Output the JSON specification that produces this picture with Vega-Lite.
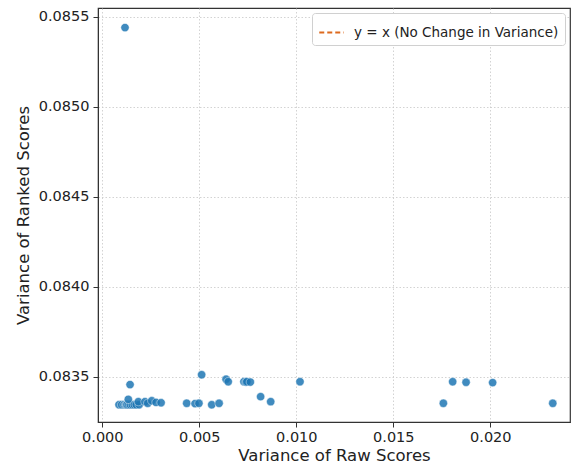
{
  "$schema": "https://vega.github.io/schema/vega-lite/v6.json",
  "width": 472,
  "height": 414,
  "autosize": {"type": "none"},
  "padding": {"left": 98, "top": 8, "right": 1, "bottom": 53},
  "config": {
    "font": "DejaVu Sans",
    "view": {"stroke": "#333333", "strokeWidth": 1.2},
    "axis": {
      "labelFont": "DejaVu Sans",
      "titleFont": "DejaVu Sans",
      "labelFontSize": 14.5,
      "titleFontSize": 16.5,
      "titleFontWeight": "normal",
      "labelColor": "#222222",
      "titleColor": "#222222",
      "domainColor": "#333333",
      "tickColor": "#333333",
      "tickSize": 5,
      "gridColor": "#c8c8c8",
      "gridDash": [1.5, 2],
      "gridWidth": 0.8
    }
  },
  "layer": [
    {
      "data": {
        "values": [
          {"raw": 0.00117, "ranked": 0.085441},
          {"raw": 0.00143, "ranked": 0.083456},
          {"raw": 0.00512, "ranked": 0.083511},
          {"raw": 0.00638, "ranked": 0.083486},
          {"raw": 0.00649, "ranked": 0.083472},
          {"raw": 0.0073, "ranked": 0.083472},
          {"raw": 0.00741, "ranked": 0.083470},
          {"raw": 0.00745, "ranked": 0.083472},
          {"raw": 0.00763, "ranked": 0.083470},
          {"raw": 0.00816, "ranked": 0.083389},
          {"raw": 0.00868, "ranked": 0.083361},
          {"raw": 0.01019, "ranked": 0.083472},
          {"raw": 0.01758, "ranked": 0.083352},
          {"raw": 0.01806, "ranked": 0.083472},
          {"raw": 0.01875, "ranked": 0.083469},
          {"raw": 0.02012, "ranked": 0.083467},
          {"raw": 0.02322, "ranked": 0.083352},
          {"raw": 0.00086, "ranked": 0.083344},
          {"raw": 0.00100, "ranked": 0.083344},
          {"raw": 0.00112, "ranked": 0.083344},
          {"raw": 0.00120, "ranked": 0.083344},
          {"raw": 0.00125, "ranked": 0.083344},
          {"raw": 0.00128, "ranked": 0.083344},
          {"raw": 0.00137, "ranked": 0.083344},
          {"raw": 0.00145, "ranked": 0.083344},
          {"raw": 0.00155, "ranked": 0.083344},
          {"raw": 0.00165, "ranked": 0.083344},
          {"raw": 0.00175, "ranked": 0.083344},
          {"raw": 0.00190, "ranked": 0.083344},
          {"raw": 0.00134, "ranked": 0.083374},
          {"raw": 0.00186, "ranked": 0.083361},
          {"raw": 0.00220, "ranked": 0.083361},
          {"raw": 0.00234, "ranked": 0.083352},
          {"raw": 0.00255, "ranked": 0.083366},
          {"raw": 0.00277, "ranked": 0.083357},
          {"raw": 0.00303, "ranked": 0.083355},
          {"raw": 0.00435, "ranked": 0.083352},
          {"raw": 0.00478, "ranked": 0.083350},
          {"raw": 0.00498, "ranked": 0.083352},
          {"raw": 0.00564, "ranked": 0.083344},
          {"raw": 0.00602, "ranked": 0.083352}
        ]
      },
      "mark": {"type": "point", "filled": true, "size": 70, "color": "#1f77b4", "opacity": 0.85, "stroke": "white", "strokeWidth": 0.5, "strokeOpacity": 1},
      "encoding": {
        "x": {
          "field": "raw", "type": "quantitative",
          "scale": {"domain": [-0.000222, 0.024108], "nice": false, "zero": false},
          "axis": {"title": "Variance of Raw Scores", "format": ".3f", "values": [0, 0.005, 0.01, 0.015, 0.02], "titlePadding": 4, "labelPadding": 3}
        },
        "y": {
          "field": "ranked", "type": "quantitative",
          "scale": {"domain": [0.083248, 0.08555], "nice": false, "zero": false},
          "axis": {"title": "Variance of Ranked Scores", "format": ".4f", "values": [0.0835, 0.084, 0.0845, 0.085, 0.0855], "titlePadding": 7, "labelPadding": 4}
        }
      }
    },
    {
      "data": {"values": [{"raw": 0.0009, "ranked": 0.0009}, {"raw": 0.0233, "ranked": 0.0233}]},
      "mark": {"type": "line", "clip": true, "strokeDash": [5, 3], "strokeWidth": 1.5},
      "encoding": {
        "x": {"field": "raw", "type": "quantitative"},
        "y": {"field": "ranked", "type": "quantitative"},
        "color": {
          "datum": "y = x (No Change in Variance)",
          "scale": {"range": ["#dd6a1f"]},
          "legend": {
            "title": null,
            "orient": "top-right",
            "offset": 5,
            "symbolType": "stroke",
            "symbolDash": [5, 3],
            "symbolStrokeWidth": 1.8,
            "symbolSize": 600,
            "labelFontSize": 13.5,
            "labelLimit": 400,
            "labelOffset": 9,
            "labelColor": "#222222",
            "labelFont": "DejaVu Sans",
            "fillColor": "white",
            "strokeColor": "#d0d0d0",
            "cornerRadius": 3,
            "padding": 6
          }
        }
      }
    }
  ]
}
